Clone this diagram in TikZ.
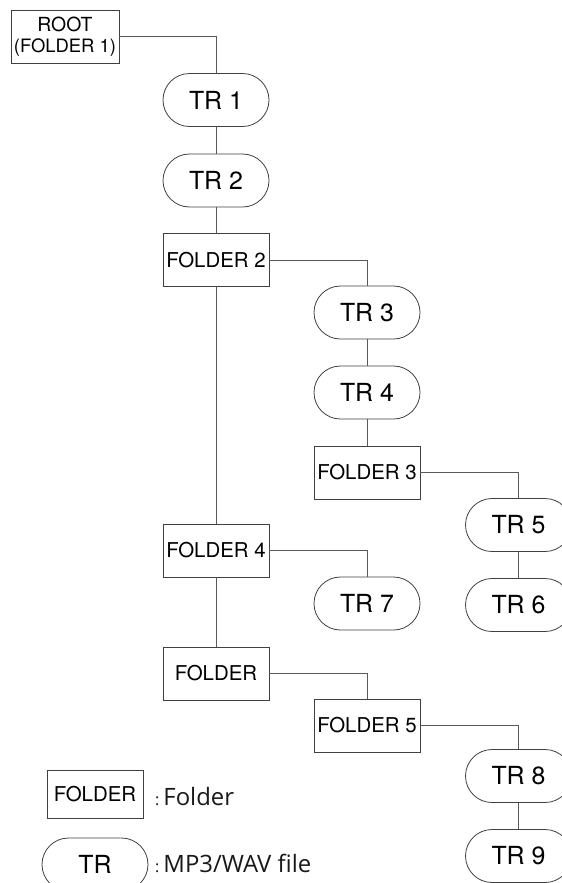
\documentclass[tikz,border=0pt]{standalone}
\usepackage{fontspec}
\setmainfont{TeX Gyre Heros}
\newfontfamily\legendfont{Open Sans}
\begin{document}
\begin{tikzpicture}[x=1bp,y=-1bp,
  folderbox/.style={draw=black!75, line width=0.8bp, minimum width=106bp, minimum height=53bp, inner sep=0pt, font=\fontsize{20.5}{22}\selectfont},
  trbox/.style={draw=black!75, line width=0.8bp, rounded corners=26.5bp, minimum width=106bp, minimum height=53bp, inner sep=0pt, font=\fontsize{25}{26}\selectfont},
  link/.style={draw=black!65, line width=1bp},
  legendtext/.style={anchor=base west, inner sep=0pt, font=\legendfont\fontsize{24}{26}\selectfont, text=black!90}]
\useasboundingbox (0,0) rectangle (562,883);

\node[folderbox, minimum width=108bp, align=center, font=\fontsize{18.5}{21}\selectfont] (root) at (65,36.5) {{\fontsize{19.5}{21}\selectfont ROOT}\\(FOLDER 1)};
\node[trbox] (tr1) at (216,100) {TR 1};
\node[trbox] (tr2) at (216,180.5) {TR 2};
\node[folderbox] (f2) at (216,260) {FOLDER 2};
\node[trbox] (tr3) at (367,312.5) {TR 3};
\node[trbox] (tr4) at (367,392.5) {TR 4};
\node[folderbox] (f3) at (367,472.5) {FOLDER 3};
\node[trbox] (tr5) at (518.5,525) {TR 5};
\node[trbox] (tr6) at (518.5,605) {TR 6};
\node[folderbox] (f4) at (216,550.5) {FOLDER 4};
\node[trbox] (tr7) at (367,603.5) {TR 7};
\node[folderbox] (fold) at (216,673.5) {FOLDER};
\node[folderbox] (f5) at (367,725.5) {FOLDER 5};
\node[trbox] (tr8) at (518.5,776) {TR 8};
\node[trbox] (tr9) at (518.5,856) {TR 9};

\node[folderbox, minimum width=96bp, minimum height=48bp] (lf) at (95,794) {FOLDER};
\node[trbox] (ltr) at (95,864.5) {TR};
\node[legendtext] (lft) at (155,805) {{\fontsize{16}{16}\selectfont :}\,Folder};
\node[legendtext] (ltrt) at (155,872) {{\fontsize{16}{16}\selectfont :}\,MP3/WAV file};

\draw[link] (root.east) -| (tr1.north);
\draw[link] (tr1) -- (tr2);
\draw[link] (tr2) -- (f2);
\draw[link] (f2.east) -| (tr3.north);
\draw[link] (tr3) -- (tr4);
\draw[link] (tr4) -- (f3);
\draw[link] (f3.east) -| (tr5.north);
\draw[link] (tr5) -- (tr6);
\draw[link] (f2) -- (f4);
\draw[link] (f4.east) -| (tr7.north);
\draw[link] (f4) -- (fold);
\draw[link] (fold.east) -| (f5.north);
\draw[link] (f5.east) -| (tr8.north);
\draw[link] (tr8) -- (tr9);
\end{tikzpicture}
\end{document}
